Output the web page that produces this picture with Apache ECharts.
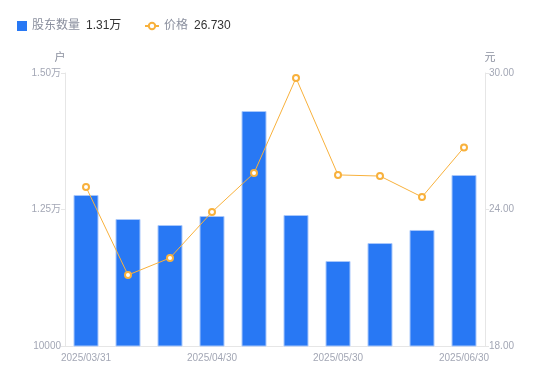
<!DOCTYPE html>
<html><head><meta charset="utf-8">
<script src="https://cdn.jsdelivr.net/npm/echarts@6/dist/echarts.min.js"></script>
<style>html,body{margin:0;padding:0;background:#fff}#c{width:550px;height:381px}</style>
</head><body><div id="c"></div>
<script>
const categories = ['2025/03/31','2025/04/10','2025/04/20','2025/04/30','2025/05/10','2025/05/20','2025/05/30','2025/06/10','2025/06/20','2025/06/30'];
const holders = [12766, 12326, 12216, 12381, 14304, 12399, 11557, 11886, 12125, 13132];
const prices = [24.99, 21.12, 21.87, 23.89, 25.60, 29.78, 25.52, 25.47, 24.55, 26.73];
const leftTicks = {10000: '10000', 12500: '1.25万', 15000: '1.50万'};
const legendValues = {'股东数量': '1.31万', '价格': '26.730'};

const font = 'Liberation Sans, Noto Sans CJK SC, sans-serif';
const legendText = {
  formatter: n => '{n|' + n + '}{v|' + legendValues[n] + '}',
  textStyle: {rich: {n: {color: '#8a8f9e', fontSize: 12, fontFamily: font}, v: {color: '#333', fontSize: 12, fontFamily: font, padding: [0, 0, 0, 6]}}}
};
const chart = echarts.init(document.getElementById('c'));
chart.setOption({
  animation: false,
  textStyle: {fontFamily: font},
  legend: [Object.assign({
    left: 12, top: 15, itemWidth: 10, itemHeight: 10,
    itemStyle: {borderWidth: 0},
    data: [{name: '股东数量', icon: 'rect'}]
  }, legendText), Object.assign({
    left: 139, top: 15, itemWidth: 14, itemHeight: 8,
    data: [{name: '价格'}]
  }, legendText)],
  grid: {left: 65, right: 65, top: 73, bottom: 35},
  xAxis: {
    type: 'category', data: categories,
    axisLine: {lineStyle: {color: '#e6e6e6'}},
    axisTick: {show: false},
    axisLabel: {interval: 2, color: '#a3a7b5', fontSize: 10, margin: 7, showMaxLabel: true}
  },
  yAxis: [{
    type: 'value', min: 10000, max: 15000, interval: 2500, name: '户',
    nameTextStyle: {color: '#8a8f9e', fontSize: 11, padding: [0, 10, 0, 0]},
    nameGap: 10,
    axisLine: {show: true, lineStyle: {color: '#e6e6e6'}},
    axisTick: {show: true, length: 4, lineStyle: {color: '#e6e6e6'}},
    splitLine: {show: false},
    axisLabel: {color: '#a3a7b5', fontSize: 10, margin: 4, formatter: v => leftTicks[v] || ''}
  }, {
    type: 'value', min: 18, max: 30, interval: 6, name: '元',
    nameTextStyle: {color: '#8a8f9e', fontSize: 11, padding: [0, 0, 0, 10]},
    nameGap: 10,
    axisLine: {show: true, lineStyle: {color: '#e6e6e6'}},
    axisTick: {show: true, length: 4, lineStyle: {color: '#e6e6e6'}},
    splitLine: {show: false},
    axisLabel: {color: '#a3a7b5', fontSize: 10, margin: 4, formatter: v => v.toFixed(2)}
  }],
  series: [{
    name: '股东数量', type: 'bar', data: holders, barWidth: 25,
    itemStyle: {color: '#2878f4', borderColor: '#a9c8fb', borderWidth: 1}
  }, {
    name: '价格', type: 'line', yAxisIndex: 1, data: prices,
    symbol: 'circle', symbolSize: 6, showAllSymbol: true,
    lineStyle: {color: '#f8b13c', width: 1},
    itemStyle: {color: '#fff', borderColor: '#f8b13c', borderWidth: 2}
  }]
});
</script></body></html>
